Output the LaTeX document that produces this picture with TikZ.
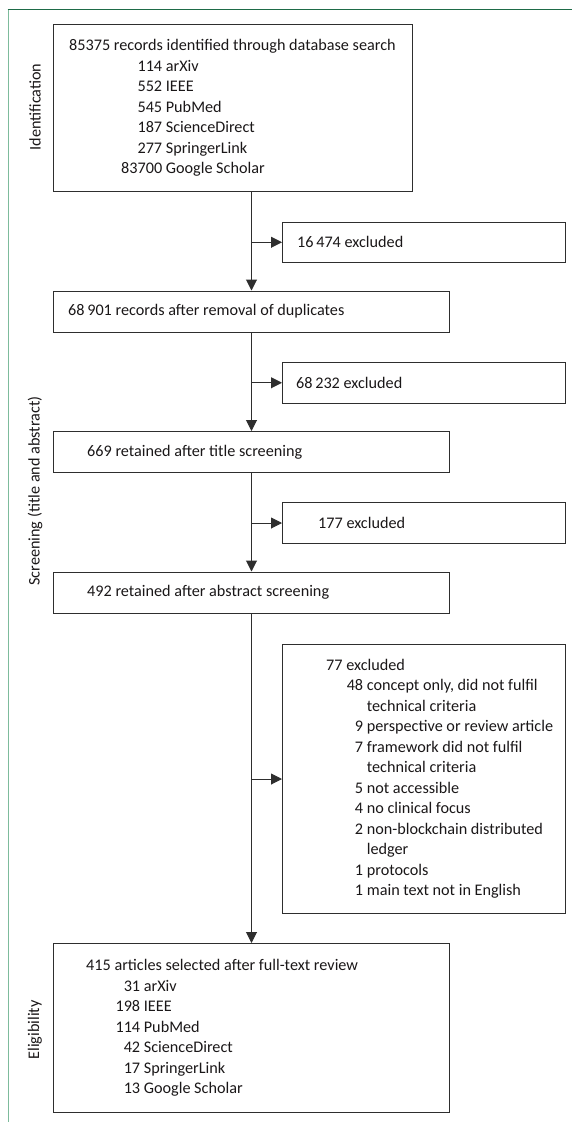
\documentclass[tikz,border=0pt]{standalone}
\usepackage{fontspec}
\setmainfont{Carlito}
\usetikzlibrary{arrows.meta,calc}
\definecolor{frameD}{HTML}{1E6B47}
\definecolor{frameL}{HTML}{7DBB9C}
\definecolor{ink}{HTML}{2E2E2E}
\definecolor{txtc}{HTML}{1A1718}
\newcommand{\nrow}[3]{\makebox[#1][r]{#2}\ #3}
\begin{document}
\begin{tikzpicture}[x=1pt,y=-1pt,
  box/.style={draw=ink, line width=1pt, anchor=north west, inner sep=0pt},
  lbl/.style={anchor=west, align=left, inner sep=0pt, text=txtc, font=\fontsize{16.2}{20.5}\selectfont},
  arr/.style={draw=ink, line width=1pt, -{Triangle[length=11pt,width=11pt]}},
  side/.style={rotate=90, inner sep=0pt, text=txtc, font=\fontsize{16.2}{20.5}\selectfont}]
\useasboundingbox (0,0) rectangle (572,1122);
% frame
\draw[frameL, line width=1.7pt] (8.5,9.5) -- (8.5,1122);
\draw[frameD, line width=1.7pt] (7.7,9.5) -- (572,9.5);
% side labels
\node[side] (l1) at (35,107) {Identification};
\node[side] (l2) at (35,491) {Screening (title and abstract)};
\node[side] (l3) at (35,1030) {Eligibility};
% boxes
\node[box, minimum width=359pt, minimum height=167pt] (b1) at (53,24) {};
\node[box, minimum width=283pt, minimum height=40.5pt] (e1) at (282,221.5) {};
\node[box, minimum width=396pt, minimum height=41pt] (b2) at (53,290.5) {};
\node[box, minimum width=283pt, minimum height=40.5pt] (e2) at (282,362) {};
\node[box, minimum width=396pt, minimum height=41pt] (b3) at (53,431) {};
\node[box, minimum width=283pt, minimum height=41pt] (e3) at (282,502) {};
\node[box, minimum width=396pt, minimum height=41pt] (b4) at (53,571.5) {};
\node[box, minimum width=283pt, minimum height=269pt] (e4) at (282,644) {};
\node[box, minimum width=396pt, minimum height=169pt] (b5) at (53,943) {};
% texts
\node[lbl] (t1) at ([xshift=16pt]b1.west) {85375 records identified through database search\\
  \nrow{93pt}{114}{arXiv}\\
  \nrow{93pt}{552}{IEEE}\\
  \nrow{93pt}{545}{PubMed}\\
  \nrow{93pt}{187}{ScienceDirect}\\
  \nrow{93pt}{277}{SpringerLink}\\
  \nrow{93pt}{83700}{Google Scholar}};
\node[lbl] (te1) at ([xshift=15pt]e1.west) {16\,474 excluded};
\node[lbl] (t2) at ([xshift=15pt]b2.west) {68\,901 records after removal of duplicates};
\node[lbl] (te2) at ([xshift=14pt]e2.west) {68\,232 excluded};
\node[lbl] (t3) at ([xshift=34pt]b3.west) {669 retained after title screening};
\node[lbl] (te3) at ([xshift=36pt]e3.west) {177 excluded};
\node[lbl] (t4) at ([xshift=34pt]b4.west) {492 retained after abstract screening};
\node[lbl] (te4) at ([xshift=44pt]e4.west) {77 excluded\\
  \nrow{37pt}{48}{concept only, did not fulfil}\\
  \nrow{37pt}{}{technical criteria}\\
  \nrow{37pt}{9}{perspective or review article}\\
  \nrow{37pt}{7}{framework did not fulfil}\\
  \nrow{37pt}{}{technical criteria}\\
  \nrow{37pt}{5}{not accessible}\\
  \nrow{37pt}{4}{no clinical focus}\\
  \nrow{37pt}{2}{non-blockchain distributed}\\
  \nrow{37pt}{}{ledger}\\
  \nrow{37pt}{1}{protocols}\\
  \nrow{37pt}{1}{main text not in English}};
\node[lbl] (t5) at ([xshift=33pt]b5.west) {415 articles selected after full-text review\\
  \nrow{54pt}{31}{arXiv}\\
  \nrow{54pt}{198}{IEEE}\\
  \nrow{54pt}{114}{PubMed}\\
  \nrow{54pt}{42}{ScienceDirect}\\
  \nrow{54pt}{17}{SpringerLink}\\
  \nrow{54pt}{13}{Google Scholar}};
% connectors
\coordinate (s1) at (b1.south -| b2.north);
\draw[arr] (s1) -- (b2.north);
\draw[arr] (b2.south) -- (b3.north);
\draw[arr] (b3.south) -- (b4.north);
\draw[arr] (b4.south) -- (b5.north);
\draw[arr] (e1.west -| b2.north) -- (e1.west);
\draw[arr] (e2.west -| b2.north) -- (e2.west);
\draw[arr] (e3.west -| b2.north) -- (e3.west);
\draw[arr] (e4.west -| b2.north) -- (e4.west);
\end{tikzpicture}
\end{document}
